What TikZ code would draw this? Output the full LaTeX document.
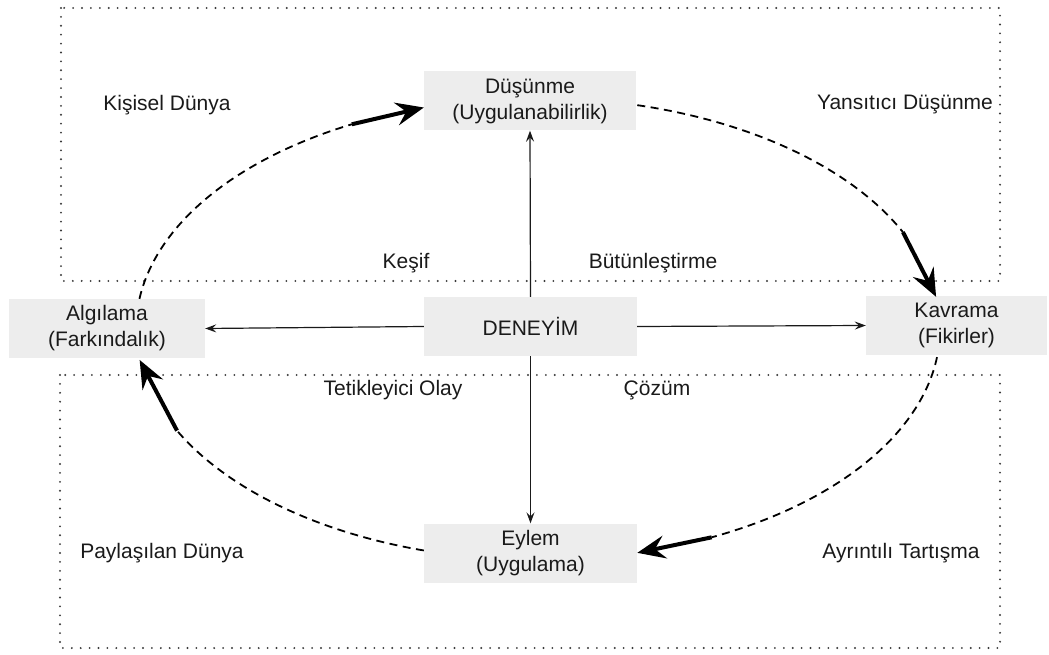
\documentclass[tikz,border=0pt]{standalone}
\usepackage{fontspec}
\setmainfont{Liberation Sans}
\usetikzlibrary{arrows.meta}
\definecolor{boxgray}{HTML}{EDEDED}
\definecolor{ink}{HTML}{1A1A1A}

\begin{document}
\begin{tikzpicture}[x=1pt,y=1pt,
  box/.style={fill=boxgray, draw=none, minimum width=#1, minimum height=59pt,
    align=center, inner sep=0pt, font=\fontsize{21}{26}\selectfont, text=ink},
  lbl/.style={font=\fontsize{21}{26}\selectfont, text=ink, inner sep=0pt},
  region/.style={draw=gray!45!black, line width=2.1pt, line cap=round,
    dash pattern=on 0pt off 8.9pt},
  link/.style={draw=ink, line width=1.2pt,
    -{Stealth[length=11pt,width=8pt,inset=4pt]}},
  cyc/.style={draw=black, line width=1.8pt, dash pattern=on 8pt off 5.5pt},
  cychead/.style={draw=black, line width=4pt,
    -{Stealth[length=28pt,width=23pt,inset=10pt]}}]

\useasboundingbox (0,0) rectangle (1049,654);

% dotted regions: personal world (top) and shared world (bottom)
\draw[region] (61,646) rectangle (1000,373);
\draw[region] (60,279) rectangle (1000,6);

% boxes
\node[box=212pt] (dus) at (530,553) {Düşünme\\(Uygulanabilirlik)};
\node[box=213pt] (den) at (530.5,327.5) {DENEYİM};
\node[box=213pt] (eyl) at (530.5,101) {Eylem\\(Uygulama)};
\node[box=196pt] (alg) at (107,325.5) {Algılama\\(Farkındalık)};
\node[box=181pt] (kav) at (956.5,328.5) {Kavrama\\(Fikirler)};

% region and quadrant labels
\node[lbl] (l1) at (167,549) {Kişisel Dünya};
\node[lbl] (l2) at (905,549) {Yansıtıcı Düşünme};
\node[lbl] (l3) at (406,391) {Keşif};
\node[lbl] (l4) at (653,391) {Bütünleştirme};
\node[lbl] (l5) at (393,264) {Tetikleyici Olay};
\node[lbl] (l6) at (657,264) {Çözüm};
\node[lbl] (l7) at (162,101) {Paylaşılan Dünya};
\node[lbl] (l8) at (901,101) {Ayrıntılı Tartışma};

% straight links from the experience box
\draw[link] (den.north) -- (dus.south);
\draw[link] (den.south) -- (eyl.north);
\draw[link] (den.west) -- (alg.west -| alg.east);
\draw[link] (den.east) -- (kav.west);

% elliptic learning cycle: dashed arcs ending in a heavy straight arrow
\coordinate (c) at (538,325);
\def\rx{402}\def\ry{231}
\path (c) ++(24.8:\rx\space and \ry) coordinate (s1) (c) ++(8:\rx\space and \ry) coordinate (t1);
\path (c) ++(-64.4:\rx\space and \ry) coordinate (s2) (c) ++(-75.7:\rx\space and \ry) coordinate (t2);
\path (c) ++(-153.9:\rx\space and \ry) coordinate (s3) (c) ++(-172.3:\rx\space and \ry) coordinate (t3);
\path (c) ++(117.6:\rx\space and \ry) coordinate (s4) (c) ++(106.5:\rx\space and \ry) coordinate (t4);
% Düşünme -> Kavrama
\draw[cyc] (c) ++(75.7:\rx\space and \ry) arc[start angle=75.7,end angle=24.8,x radius=\rx,y radius=\ry];
\draw[cychead] (s1) -- (t1);
% Kavrama -> Eylem
\draw[cyc] (c) ++(-7:\rx\space and \ry) arc[start angle=-7,end angle=-64.4,x radius=\rx,y radius=\ry];
\draw[cychead] (s2) -- (t2);
% Eylem -> Algılama
\draw[cyc] (c) ++(-106.5:\rx\space and \ry) arc[start angle=-106.5,end angle=-153.9,x radius=\rx,y radius=\ry];
\draw[cychead] (s3) -- (t3);
% Algılama -> Düşünme
\draw[cyc] (c) ++(172.5:\rx\space and \ry) arc[start angle=172.5,end angle=117.6,x radius=\rx,y radius=\ry];
\draw[cychead] (s4) -- (t4);
\end{tikzpicture}
\end{document}
